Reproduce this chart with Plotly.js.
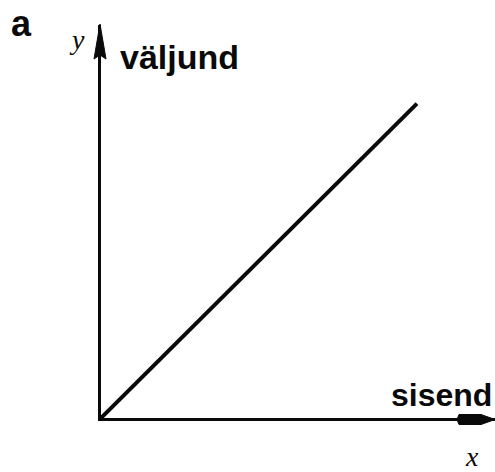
<!DOCTYPE html>
<html>
<head>
<meta charset="utf-8">
<script src="https://cdn.plot.ly/plotly-3.0.1.min.js"></script>
<style>html,body{margin:0;padding:0;background:#fff;}#chart{width:495px;height:472px;}</style>
</head>
<body>
<div id="chart"></div>
<script>
// Data: linear relation between input (sisend) and output (väljund)
var inputX = [0, 10];
var outputY = [0, 10];
var xRange = [0, 12.47];
var yRange = [0, 12.5];
var panelLabel = 'a';
var xAxisName = 'sisend';
var yAxisName = 'väljund';
var xSymbol = 'x';
var ySymbol = 'y';

var ink = '#0a0a0a';

var traces = [{
  x: inputX, y: outputY, type: 'scatter', mode: 'lines',
  line: {color: ink, width: 4}, hoverinfo: 'skip', cliponaxis: false
}];

var sans = 'Liberation Sans, Arial, sans-serif';
var serif = 'Liberation Serif, Times New Roman, serif';

function label(text, x, y, font) {
  return {text: text, x: x, y: y, xref: 'paper', yref: 'paper', xanchor: 'center', yanchor: 'middle',
          showarrow: false, font: font};
}

var layout = {
  width: 495, height: 472,
  margin: {l: 101, r: 0, t: 25, b: 54, pad: 0},
  paper_bgcolor: '#fff', plot_bgcolor: '#fff',
  showlegend: false,
  xaxis: {range: xRange, showgrid: false, zeroline: false, showticklabels: false, ticks: '',
          showline: true, linecolor: ink, linewidth: 3, fixedrange: true},
  yaxis: {range: yRange, showgrid: false, zeroline: false, showticklabels: false, ticks: '',
          showline: true, linecolor: ink, linewidth: 3, fixedrange: true},
  shapes: [
    {type: 'path', xref: 'paper', yref: 'paper', xsizemode: 'pixel', ysizemode: 'pixel',
     xanchor: 0, yanchor: 1, layer: 'above',
     path: 'M-1,1 L-7,-34 L-1,-30 L5,-34 Z', fillcolor: ink, line: {color: ink, width: 1}},
    {type: 'path', xref: 'paper', yref: 'paper', xsizemode: 'pixel', ysizemode: 'pixel',
     xanchor: 1, yanchor: 0, layer: 'above',
     path: 'M0,-1.5 L-14,3.5 L-36,3.5 L-38,-1.5 L-36,-6.5 L-14,-6.5 Z', fillcolor: ink, line: {color: ink, width: 1}}
  ],
  annotations: [
    label(panelLabel, -0.203, 1.005, {family: sans, size: 36, color: ink, weight: 'bold'}),
    label(ySymbol, -0.061, 0.962, {family: serif, size: 28, color: ink, style: 'italic'}),
    label(yAxisName, 0.198, 0.919, {family: sans, size: 34, color: ink, weight: 'bold'}),
    label(xAxisName, 0.864, 0.0585, {family: sans, size: 32, color: ink, weight: 'bold'}),
    label(xSymbol, 0.942, -0.097, {family: serif, size: 28, color: ink, style: 'italic'})
  ]
};

Plotly.newPlot('chart', traces, layout, {staticPlot: true, displayModeBar: false});
</script>
</body>
</html>
